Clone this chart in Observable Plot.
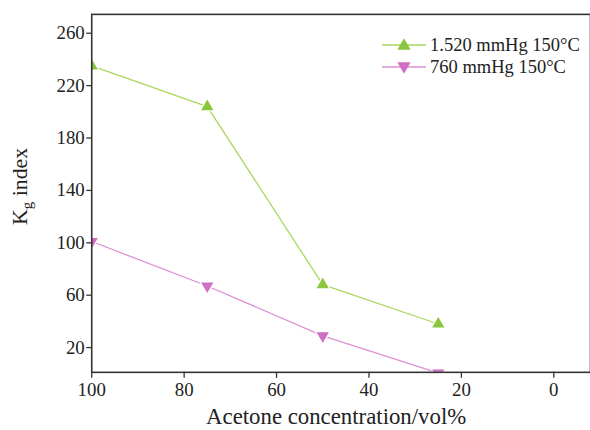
<!DOCTYPE html>
<html>
<head>
<meta charset="utf-8">
<script src="https://cdn.jsdelivr.net/npm/d3@7"></script>
<script src="https://cdn.jsdelivr.net/npm/@observablehq/plot@0.6"></script>
<style>
  html, body { margin: 0; padding: 0; background: #fff; overflow: hidden; width: 590px; height: 430px; }
  #wrap { position: relative; width: 590px; height: 430px; overflow: hidden; }
  #legend { position: absolute; left: 382px; top: 34px; font-family: "Liberation Serif", serif; font-size: 18.5px; color: #222; line-height: 22px; }
  #legend .row { display: flex; align-items: center; height: 22px; white-space: nowrap; }
  #legend svg { margin-right: 4px; }
</style>
</head>
<body>
<div id="wrap"></div>
<script>
const concentration = [100, 75, 50, 25];
const kg1520 = [235, 204, 68, 38];
const kg760 = [101, 67, 29, 0.6];
const seriesNames = ["1.520 mmHg 150°C", "760 mmHg 150°C"];
const seriesColors = ["#a9d65e", "#dd8fd3"];
const markerColors = ["#8cc63f", "#cf6ec2"];
const xTicks = [100, 80, 60, 40, 20, 0];
const yTicks = [20, 60, 100, 140, 180, 220, 260];
const xTitle = "Acetone concentration/vol%";

const data = [];
concentration.forEach((c, i) => {
  data.push({series: seriesNames[0], x: c, y: kg1520[i]});
  data.push({series: seriesNames[1], x: c, y: kg760[i]});
});
const s1 = data.filter(d => d.series === seriesNames[0]);
const s2 = data.filter(d => d.series === seriesNames[1]);

const chart = Plot.plot({
  width: 595,
  height: 430,
  marginLeft: 92,
  marginRight: 0,
  marginTop: 14,
  marginBottom: 55,
  style: {fontFamily: "Liberation Serif, serif", fontSize: "19px", color: "#222", background: "white", overflow: "visible"},
  x: {domain: [100, -7.94], label: null},
  y: {domain: [1.1, 274.4], label: null},
  marks: [
    Plot.line(s1, {x: "x", y: "y", stroke: seriesColors[0], strokeWidth: 1.3, clip: true}),
    Plot.line(s2, {x: "x", y: "y", stroke: seriesColors[1], strokeWidth: 1.3, clip: true}),
    Plot.dot(s1, {x: "x", y: "y", symbol: "triangle", r: 4.6, fill: markerColors[0], stroke: "white", strokeWidth: 2.5, paintOrder: "stroke", clip: true}),
    Plot.dot(s2, {x: "x", y: "y", symbol: "triangle", rotate: 180, r: 4.6, fill: markerColors[1], stroke: "white", strokeWidth: 2.5, paintOrder: "stroke", clip: true}),
    Plot.axisX({ticks: xTicks, tickSize: 6, tickPadding: 4, fontSize: 19, label: null, stroke: "#333", strokeWidth: 1.3}),
    Plot.axisY({ticks: yTicks, tickSize: 5, tickPadding: 2, fontSize: 19, label: null, stroke: "#333", strokeWidth: 1.3}),
    Plot.frame({stroke: "#333", strokeWidth: 1.6})
  ]
});

const wrap = document.getElementById("wrap");
wrap.appendChild(chart);
const svg = d3.select(chart);

// x axis title
svg.append("text")
  .attr("x", 339).attr("y", 428)
  .attr("text-anchor", "middle")
  .attr("font-family", "Liberation Serif, serif")
  .attr("font-size", 23)
  .attr("fill", "#222")
  .text(xTitle);

// y axis title with subscript
const t = svg.append("text")
  .attr("transform", "translate(27,188) rotate(-90)")
  .attr("text-anchor", "middle")
  .attr("font-family", "Liberation Serif, serif")
  .attr("font-size", 22)
  .attr("fill", "#222");
t.append("tspan").text("K");
t.append("tspan").attr("font-size", 15).attr("dy", 5).text("g");
t.append("tspan").attr("dy", -5).text(" index");

// legend
const legend = document.createElement("div");
legend.id = "legend";
seriesNames.forEach((name, i) => {
  const row = document.createElement("div");
  row.className = "row";
  const sw = d3.create("svg").attr("width", 44).attr("height", 16);
  sw.append("line").attr("x1", 0).attr("x2", 44).attr("y1", 8).attr("y2", 8)
    .attr("stroke", seriesColors[i]).attr("stroke-width", 1.4);
  const sym = d3.symbol(d3.symbolTriangle, 78)();
  sw.append("path").attr("d", sym)
    .attr("transform", `translate(22,${i === 0 ? 9 : 7}) rotate(${i === 0 ? 0 : 180})`)
    .attr("fill", markerColors[i]);
  row.appendChild(sw.node());
  const span = document.createElement("span");
  span.textContent = name;
  row.appendChild(span);
  legend.appendChild(row);
});
wrap.appendChild(legend);
</script>
</body>
</html>
